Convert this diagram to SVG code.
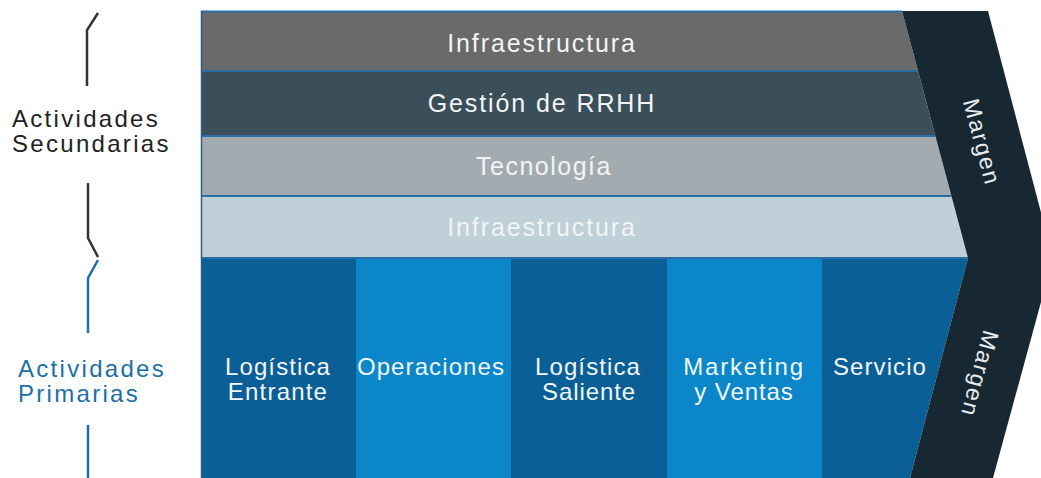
<svg xmlns="http://www.w3.org/2000/svg" width="1041" height="478" viewBox="0 0 1041 478">
  <style>
    text { font-family: "Liberation Sans", Arial, sans-serif; font-size: 25px; }
    .row { fill: #f2f4f5; text-anchor: middle; }
    .prim { fill: #f2f6f9; text-anchor: middle; font-size: 24px; }
    .lbl-sec { fill: #222222; letter-spacing: 2.3px; font-size: 24px; }
    .lbl-pri { fill: #1b6fa8; letter-spacing: 2.3px; font-size: 24px; }
    .sep { stroke: #2a6ea3; stroke-width: 2; fill: none; }
    .br-black { stroke: #333333; stroke-width: 2.5; fill: none; }
    .br-blue { stroke: #1b6fa8; stroke-width: 2.5; fill: none; }
    .margen { fill: #e8ecee; text-anchor: middle; font-size: 23px; letter-spacing: 1.8px; }
  </style>
  <rect x="0" y="0" width="1041" height="478" fill="#ffffff"/>

  <g id="labels-left">
    <text class="lbl-sec" x="12" y="127">Actividades</text>
    <text class="lbl-sec" x="12" y="152">Secundarias</text>
    <text class="lbl-pri" x="18" y="377">Actividades</text>
    <text class="lbl-pri" x="18" y="402">Primarias</text>
  </g>

  <g id="connectors">
    <polyline class="br-black" points="98,13 87,30 87,86"/>
    <polyline class="br-black" points="88,183 88,238 98,257"/>
    <polyline class="br-blue" points="98,260 88,278 88,333"/>
    <polyline class="br-blue" points="88,425 88,478"/>
  </g>

  <g id="row-infraestructura-1">
    <polygon points="201,11 902,11 918,71 201,71" fill="#6a6a6a"/>
    <text class="row" x="542" y="52" style="letter-spacing:1.9px">Infraestructura</text>
  </g>
  <g id="row-rrhh">
    <polygon points="201,71 918,71 935.4,136 201,136" fill="#3b4f5b"/>
    <text class="row" x="542" y="112" style="letter-spacing:1.9px">Gestión de RRHH</text>
  </g>
  <g id="row-tecnologia">
    <polygon points="201,136 935.4,136 951.4,196 201,196" fill="#a2abb0"/>
    <text class="row" x="544" y="175" style="letter-spacing:1.5px">Tecnología</text>
  </g>
  <g id="row-infraestructura-2">
    <polygon points="201,196 951.4,196 968,258 201,258" fill="#c0d0d8"/>
    <text class="row" x="542" y="236" style="letter-spacing:1.9px">Infraestructura</text>
  </g>

  <g id="col-logistica-entrante">
    <rect x="201" y="258" width="155" height="220" fill="#0a5f96"/>
    <text class="prim" x="278" y="375" style="letter-spacing:1.1px">Logística</text>
    <text class="prim" x="278" y="400" style="letter-spacing:1.2px">Entrante</text>
  </g>
  <g id="col-operaciones">
    <rect x="356" y="258" width="155" height="220" fill="#0a86c9"/>
    <text class="prim" x="431" y="375" style="letter-spacing:1.1px">Operaciones</text>
  </g>
  <g id="col-logistica-saliente">
    <rect x="511" y="258" width="156" height="220" fill="#0a5f96"/>
    <text class="prim" x="588" y="375" style="letter-spacing:1.1px">Logística</text>
    <text class="prim" x="589" y="400" style="letter-spacing:0.9px">Saliente</text>
  </g>
  <g id="col-marketing">
    <rect x="667" y="258" width="155" height="220" fill="#0a86c9"/>
    <text class="prim" x="744" y="375" style="letter-spacing:1.8px">Marketing</text>
    <text class="prim" x="744" y="400" style="letter-spacing:0.9px">y Ventas</text>
  </g>
  <g id="col-servicio">
    <polygon points="822,258 968,258 910,478 822,478" fill="#0a5f96"/>
    <text class="prim" x="880" y="375" style="letter-spacing:1.1px">Servicio</text>
  </g>

  <g id="separators">
    <line class="sep" x1="201" y1="11.5" x2="902" y2="11.5"/>
    <line class="sep" x1="201" y1="71" x2="918" y2="71"/>
    <line class="sep" x1="201" y1="136" x2="935.4" y2="136"/>
    <line class="sep" x1="201" y1="196" x2="951.4" y2="196"/>
    <line class="sep" x1="201" y1="258" x2="968" y2="258"/>
    <line x1="201.5" y1="11" x2="201.5" y2="478" stroke="#2a5f86" stroke-width="1.5"/>
  </g>

  <g id="margen">
    <polygon points="902,11 988,11 1053,258 993,478 910,478 968,258" fill="#182833"/>
    <text class="margen" transform="translate(982,142) rotate(75)" x="0" y="8">Margen</text>
    <text class="margen" transform="translate(980,374) rotate(105)" x="0" y="8">Margen</text>
  </g>
</svg>
